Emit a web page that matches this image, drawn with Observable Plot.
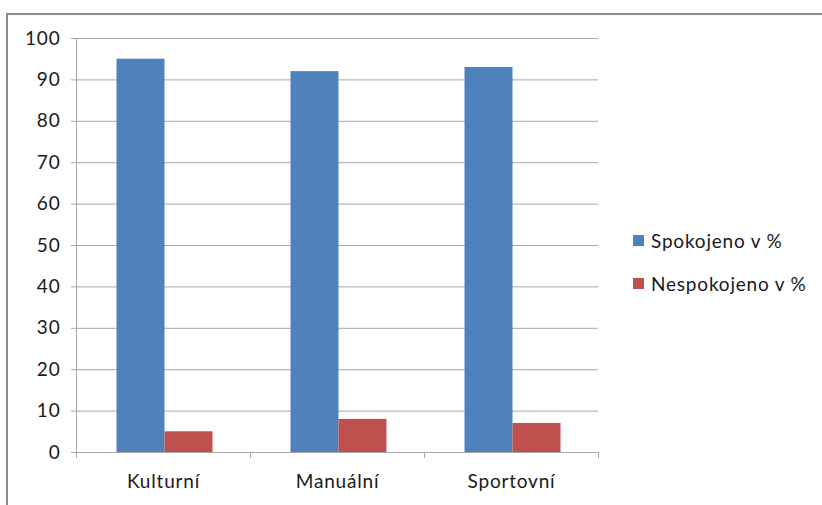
<!DOCTYPE html>
<html>
<head>
<meta charset="utf-8">
<script src="https://cdn.jsdelivr.net/npm/d3@7"></script>
<script src="https://cdn.jsdelivr.net/npm/@observablehq/plot@0.6"></script>
<style>
  body { margin: 0; background: #fff; }
  #wrap { position: relative; width: 822px; height: 505px; overflow: hidden; background: #fff; font-family: Lato, "Open Sans", sans-serif; }
  #frame { position: absolute; left: 6px; top: 13px; width: 900px; height: 600px; border: 2px solid #8c8c8c; box-sizing: border-box; }
  #chart { position: absolute; left: 0; top: 0; }
  #chart text { letter-spacing: 0.8px; }
  #legend { position: absolute; left: 633px; top: 229px; font-size: 19px; letter-spacing: 0.8px; color: #1a1a1a; }
  .item { display: flex; align-items: center; height: 22px; margin-bottom: 21px; white-space: nowrap; }
  .sw { width: 11px; height: 11px; margin-right: 7px; }
</style>
</head>
<body>
<div id="wrap">
  <div id="frame"></div>
  <div id="chart"></div>
  <div id="legend"></div>
</div>
<script>
const categories = ["Kulturní", "Manuální", "Sportovní"];
const seriesNames = ["Spokojeno v %", "Nespokojeno v %"];
const spokojeno = [95, 92, 93];
const nespokojeno = [5, 8, 7];
const yTicks = [0, 10, 20, 30, 40, 50, 60, 70, 80, 90, 100];
const colors = ["#4F81BD", "#C0504D"];

const data = [];
categories.forEach((c, i) => {
  data.push({category: c, series: seriesNames[0], value: spokojeno[i]});
  data.push({category: c, series: seriesNames[1], value: nespokojeno[i]});
});

const gridColor = "#a6a6a6";

const chart = Plot.plot({
  width: 822,
  height: 505,
  marginLeft: 76,
  marginRight: 224,
  marginTop: 38,
  marginBottom: 53,
  style: {fontFamily: "Lato, 'Open Sans', sans-serif", fontSize: "19px", color: "#1a1a1a", background: "transparent"},
  fx: {domain: categories, padding: 0, label: null},
  x: {domain: seriesNames, paddingInner: 0, paddingOuter: 0.776, axis: null},
  y: {domain: [0, 100], label: null},
  color: {domain: seriesNames, range: colors},
  marks: [
    Plot.gridY(yTicks.filter(d => d > 0), {stroke: gridColor, strokeOpacity: 1, strokeWidth: 1}),
    Plot.barY(data, {fx: "category", x: "series", y: "value", fill: "series", dx: 1.5}),
    Plot.ruleY([0], {stroke: gridColor, strokeWidth: 1}),
    Plot.axisY({ticks: yTicks, tickSize: 5, tickPadding: 11, stroke: gridColor, label: null, fontSize: 19}),
    Plot.axisFx({anchor: "bottom", tickSize: 0, tickPadding: 22, label: null, fontSize: 19})
  ]
});

document.getElementById("chart").appendChild(chart);

// axis line and category boundary ticks drawn from the scales
const svg = d3.select(chart);
const fx = chart.scale("fx");
const y = chart.scale("y");
const y0 = y.apply(0), y100 = y.apply(100);
const boundaries = categories.map(c => fx.apply(c)).concat([fx.apply(categories[categories.length - 1]) + fx.bandwidth]);
const g = svg.append("g").attr("stroke", gridColor).attr("stroke-width", 1);
g.append("line").attr("x1", boundaries[0] + 0.5).attr("x2", boundaries[0] + 0.5).attr("y1", y100).attr("y2", y0);
boundaries.forEach(b => {
  g.append("line").attr("x1", b + 0.5).attr("x2", b + 0.5).attr("y1", y0).attr("y2", y0 + 6);
});

// legend
const legend = d3.select("#legend");
seriesNames.forEach((s, i) => {
  const item = legend.append("div").attr("class", "item");
  item.append("div").attr("class", "sw").style("background", colors[i]);
  item.append("span").text(s);
});
</script>
</body>
</html>
